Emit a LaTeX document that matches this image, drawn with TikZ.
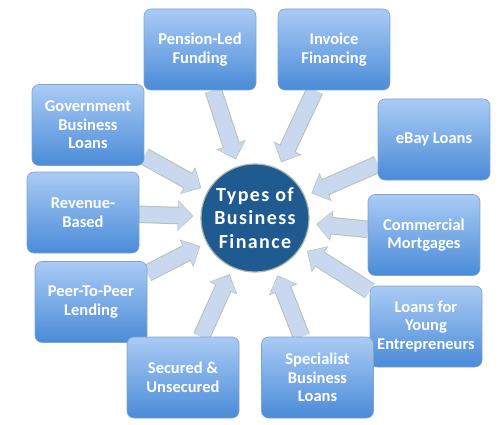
\documentclass[tikz,border=0pt]{standalone}
\usepackage{fontspec}
\setmainfont{Carlito}
\newfontfamily\centerfont[LetterSpace=7]{Carlito}
\usetikzlibrary{arrows.meta,backgrounds}
\definecolor{boxtop}{HTML}{AACBF5}
\definecolor{boxbot}{HTML}{4A8BD8}
\definecolor{boxedge}{HTML}{7FA3C9}
\definecolor{circfill}{HTML}{1F5B91}
\definecolor{circedge}{HTML}{A3B8A4}
\definecolor{arrfill}{HTML}{C9D8EF}
\definecolor{arredge}{HTML}{B2C3B4}
\tikzset{
  fbox/.style={rectangle, rounded corners=7pt, minimum width=112pt, minimum height=81pt,
    top color=boxtop, bottom color=boxbot, draw=boxedge, line width=0.6pt,
    text=white, align=center, inner sep=2pt,
    font=\bfseries\fontsize{16.5}{18.5}\selectfont},
  hub/.style={circle, minimum size=108pt, inner sep=0pt, fill=circfill, draw=circedge,
    line width=1.2pt, text=white, align=center,
    font=\centerfont\bfseries\fontsize{20}{23.5}\selectfont},
  arrout/.style={draw=arredge, line width=17.5pt, shorten >=7pt,
    -{Triangle[width=30pt,length=15.5pt]}},
  arrin/.style={draw=arrfill, line width=15.5pt, shorten >=8.2pt,
    -{Triangle[width=27.5pt,length=13.5pt]}}
}
\begin{document}
\begin{tikzpicture}[x=1pt,y=-1pt]
\useasboundingbox (0,0) rectangle (503,425);
\node[hub] (c) at (255,218) {Types of\\Business\\Finance};
\node[fbox] (pension) at (200,49.5) {Pension-Led\\Funding};
\node[fbox] (invoice) at (334,49.5) {Invoice\\Financing};
\node[fbox] (gov) at (88,125) {Government\\Business\\Loans};
\node[fbox] (ebay) at (434,139.5) {eBay Loans};
\node[fbox] (revenue) at (83,212.5) {Revenue-\\Based};
\node[fbox] (commercial) at (424,235) {Commercial\\Mortgages};
\node[fbox] (peer) at (91,302) {Peer-To-Peer\\Lending};
\node[fbox] (young) at (426,326.5) {Loans for\\Young\\Entrepreneurs};
\node[fbox] (secured) at (183,377.5) {Secured \&\\Unsecured};
\node[fbox] (specialist) at (317.5,377.5) {Specialist\\Business\\Loans};
\begin{scope}[on background layer]
\foreach \n in {pension,invoice,gov,ebay,revenue,commercial,peer,young,secured,specialist}{
  \draw[arrout] (\n) -- (c);
  \draw[arrin] (\n) -- (c);
}
\end{scope}
\end{tikzpicture}
\end{document}
